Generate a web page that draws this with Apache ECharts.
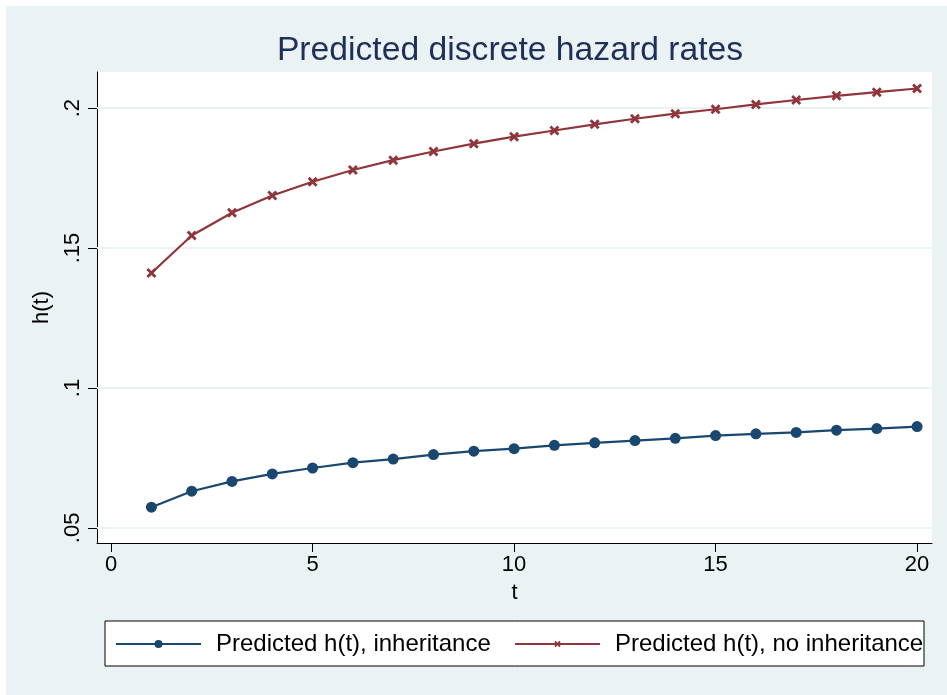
<!DOCTYPE html>
<html>
<head>
<meta charset="utf-8">
<script src="https://cdn.jsdelivr.net/npm/echarts@6/dist/echarts.min.js"></script>
<style>
html,body{margin:0;padding:0;background:#fff;}
#chart{width:947px;height:695px;}
</style>
</head>
<body>
<div id="chart"></div>
<script>
const tValues = [1,2,3,4,5,6,7,8,9,10,11,12,13,14,15,16,17,18,19,20];
const hInheritance = [0.0574,0.0631,0.0666,0.0693,0.0714,0.0733,0.0746,0.0762,0.0774,0.0783,0.0795,0.0804,0.0812,0.0820,0.0830,0.0836,0.0841,0.0849,0.0855,0.0862];
const hNoInheritance = [0.1411,0.1545,0.1626,0.1688,0.1737,0.1779,0.1814,0.1845,0.1873,0.1898,0.1920,0.1942,0.1962,0.1980,0.1996,0.2013,0.2029,0.2044,0.2057,0.2070];
const xTicks = [0,5,10,15,20];
const yTicks = [0.05,0.1,0.15,0.2];
const yTickLabels = ['.05','.1','.15','.2'];
const seriesNames = ['Predicted h(t), inheritance','Predicted h(t), no inheritance'];
const titleText = 'Predicted discrete hazard rates';

const FONT = '"Liberation Sans", Arial, sans-serif';
const BLUE = '#1a476f';
const RED = '#90353b';
const GRID_LINE = '#eaf2f3';
const XSYM = 'path://M0,2L2,0L5,3L8,0L10,2L7,5L10,8L8,10L5,7L2,10L0,8L3,5Z';

const chart = echarts.init(document.getElementById('chart'), null, {renderer:'canvas'});
chart.setOption({
  backgroundColor: '#ffffff',
  animation: false,
  textStyle: {fontFamily: FONT},
  graphic: [
    {type:'rect', z:-10, shape:{x:6,y:6,width:941,height:689}, style:{fill:'#eaf2f3'}},
    {type:'rect', z:-5, shape:{x:105,y:621,width:819,height:45}, style:{fill:'#ffffff', stroke:'#000000', lineWidth:1}}
  ],
  title: {
    text: titleText,
    left: 505, top: 29, textAlign: 'center',
    textStyle: {fontFamily: FONT, fontSize: 33.7, fontWeight: 'normal', color: '#1e2f5a'}
  },
  grid: {left:97, right:15, top:72, bottom:152, show:true, backgroundColor:'#ffffff', borderWidth:0, containLabel:false},
  xAxis: {
    type:'value', min:-0.35, max:20.37,
    name:'t', nameLocation:'middle', nameGap:39,
    nameTextStyle:{fontFamily:FONT, fontSize:22, color:'#000'},
    axisLine:{show:true, onZero:false, lineStyle:{color:'#000', width:1}},
    axisTick:{show:true, length:9, customValues:xTicks, lineStyle:{color:'#000', width:1}},
    axisLabel:{customValues:xTicks, margin:11, fontFamily:FONT, fontSize:22, color:'#000'},
    splitLine:{show:false}
  },
  yAxis: {
    type:'value', min:0.0446, max:0.2129,
    name:'h(t)', nameLocation:'middle', nameGap:44, nameRotate:90,
    nameTextStyle:{fontFamily:FONT, fontSize:22, color:'#000'},
    axisLine:{show:true, onZero:false, lineStyle:{color:'#000', width:1}},
    axisTick:{show:true, length:9, customValues:yTicks, lineStyle:{color:'#000', width:1}},
    axisLabel:{customValues:yTicks, rotate:90, margin:13, fontFamily:FONT, fontSize:22, color:'#000',
      formatter: function(v){ const i = yTicks.findIndex(function(t){return Math.abs(t-v)<1e-9;}); return i>=0 ? yTickLabels[i] : ''; }},
    splitLine:{show:false}
  },
  legend: [
    {data:[seriesNames[0]], left:115, top:632, padding:0, itemWidth:85, itemHeight:10,
     textStyle:{fontFamily:FONT, fontSize:24, color:'#000', padding:[0,0,0,10]}},
    {data:[seriesNames[1]], left:514, top:632, padding:0, itemWidth:85, itemHeight:8,
     textStyle:{fontFamily:FONT, fontSize:24, color:'#000', padding:[0,0,0,10]}}
  ],
  series: [
    {
      name:'grid', type:'line', data:[], z:1, silent:true,
      markLine:{silent:true, z:1, symbol:['none','none'], label:{show:false},
        lineStyle:{color:GRID_LINE, width:2, type:'solid'},
        data: yTicks.map(function(v){return {yAxis:v};})}
    },
    {
      name:seriesNames[0], type:'line', z:3,
      data: tValues.map(function(t,i){return [t, hInheritance[i]];}),
      symbol:'circle', symbolSize:11, showAllSymbol:true,
      lineStyle:{color:BLUE, width:2.2}, itemStyle:{color:BLUE}
    },
    {
      name:seriesNames[1], type:'line', z:3,
      data: tValues.map(function(t,i){return [t, hNoInheritance[i]];}),
      symbol:XSYM, symbolSize:10, showAllSymbol:true,
      lineStyle:{color:RED, width:2.2}, itemStyle:{color:RED}
    }
  ]
});
</script>
</body>
</html>
